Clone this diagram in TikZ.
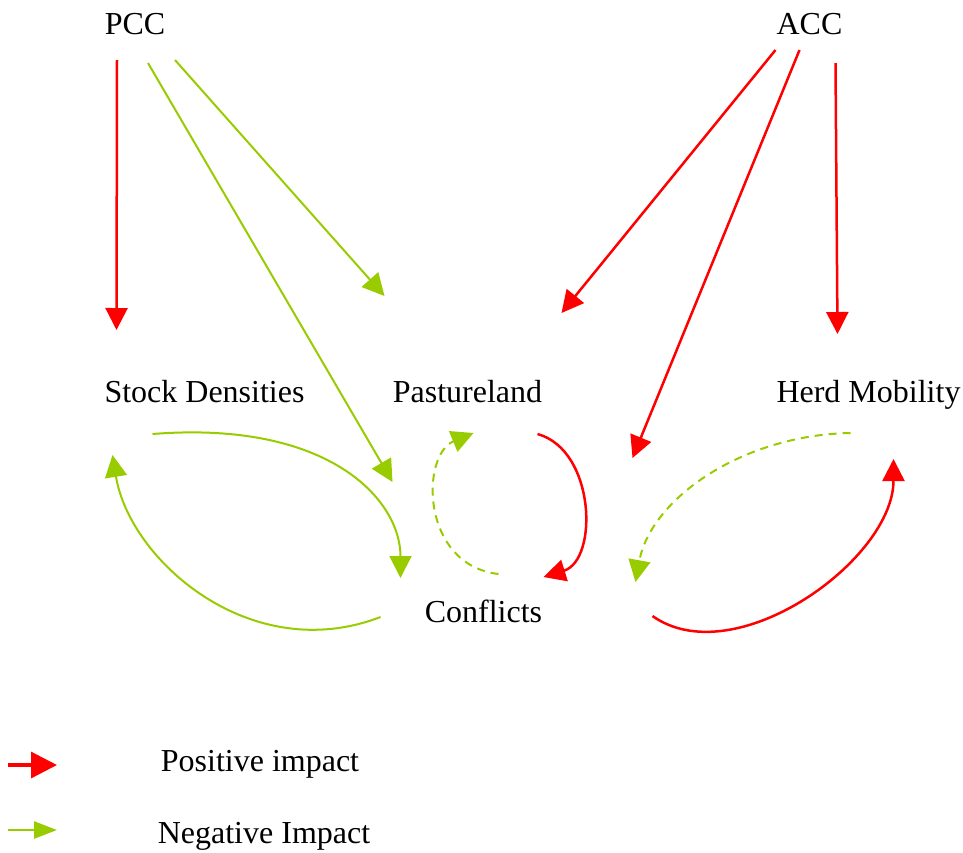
\documentclass[tikz,border=0pt]{standalone}
\usepackage{fontspec}
\setmainfont{Liberation Serif}
\usetikzlibrary{calc,arrows.meta}
\definecolor{posred}{RGB}{255,0,0}
\definecolor{neggreen}{RGB}{153,204,0}

\begin{document}
\begin{tikzpicture}[x=0.5pt,y=-0.5pt,
  var/.style={anchor=base,inner sep=0pt,font=\fontsize{16}{19}\selectfont},
  posimp/.style={draw=posred,line width=1.25pt,-{Triangle[length=11pt,width=11pt]}},
  negimp/.style={draw=neggreen,line width=1pt,-{Triangle[length=11pt,width=11pt]}},
  negdash/.style={negimp,dash pattern=on 4pt off 3pt},
  ]
  \useasboundingbox (0,0) rectangle (963,852);

  % drivers
  \node (PCC) [var] at (135,34) {PCC};
  \node (ACC) [var] at (809.5,34) {ACC};

  % system variables
  \node (Stock) [var] at (204.5,402) {Stock Densities};
  \node (Pasture) [var] at (467.5,402) {Pastureland};
  \node (Herd) [var] at (868.5,402) {Herd Mobility};
  \node (Conflict) [var] at (483.5,622) {Conflicts};

  % PCC links
  \draw[posimp] ($(PCC.base)+(-18,26)$) -- ($(Stock.base)+(-88,-72)$);
  \draw[negimp] ($(PCC.base)+(13,29)$) -- ($(Conflict.base)+(-91,-140)$);
  \draw[negimp] ($(PCC.base)+(40,26)$) -- ($(Pasture.base)+(-83,-106)$);

  % ACC links
  \draw[posimp] ($(ACC.base)+(-34,16)$) -- ($(Pasture.base)+(94,-89)$);
  \draw[posimp] ($(ACC.base)+(-10,16)$) -- ($(Conflict.base)+(149,-164)$);
  \draw[posimp] ($(ACC.base)+(26,29)$) -- ($(Herd.base)+(-31,-68)$);

  % feedback loops
  \draw[negimp] ($(Stock.base)+(-52,32)$) .. controls +(177,-14) and +(0,-78) .. ($(Conflict.base)+(-83,-44)$);
  \draw[negimp] ($(Conflict.base)+(-103,-5)$) .. controls +(-130,50) and +(17,105) .. ($(Stock.base)+(-92,53)$);
  \draw[negdash] ($(Conflict.base)+(15,-48)$) .. controls +(-78,-9) and +(-53,22) .. ($(Pasture.base)+(6,31)$);
  \draw[posimp] ($(Pasture.base)+(70,32)$) .. controls +(58,16) and +(55,-17) .. ($(Conflict.base)+(60,-45)$);
  \draw[negdash] ($(Herd.base)+(-18,31)$) .. controls +(-110,2) and +(15,-82) .. ($(Conflict.base)+(152,-40)$);
  \draw[posimp] ($(Conflict.base)+(169,-6)$) .. controls +(82,58) and +(0,101) .. ($(Herd.base)+(25,57)$);

  % legend
  \coordinate (posA) at (8,765);
  \coordinate (posB) at (57,765);
  \coordinate (negA) at (8,830);
  \coordinate (negB) at (57,830);
  \node (posText) [var] at (260,771) {Positive impact};
  \node (negText) [var] at (264,843) {Negative Impact};
  \draw[draw=posred,line width=1.6pt,-{Triangle[length=13pt,width=13pt]}] (posA) -- (posB);
  \draw[draw=neggreen,line width=1.3pt,-{Triangle[length=11.5pt,width=8.5pt]}] (negA) -- (negB);

\end{tikzpicture}
\end{document}
